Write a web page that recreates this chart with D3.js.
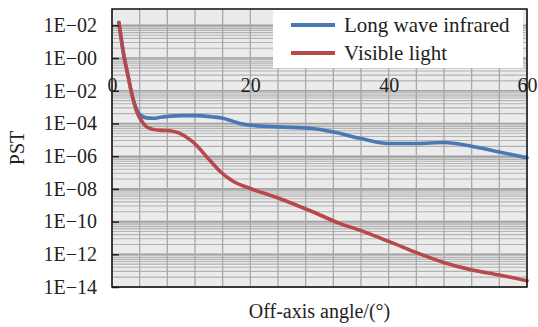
<!DOCTYPE html>
<html><head><meta charset="utf-8">
<script src="https://cdn.jsdelivr.net/npm/d3@7"></script>
<style>html,body{margin:0;padding:0;background:#fff;}svg{display:block;}</style>
</head><body>
<svg id="chart" width="538" height="327"></svg>
<script>
// ---- data ----
const angles = [1, 1.7, 2.3, 2.9, 3.5, 4, 5, 6, 7, 8.5, 10, 12, 14.6, 16, 18.5, 20, 24, 29, 32, 36, 40, 44, 48, 52, 56, 60];
const lwir = [1.5e2, 1.5e0, 8.9e-2, 5.4e-3, 8.5e-4, 3.6e-4, 2.2e-4, 2.1e-4, 2.4e-4, 2.8e-4, 3.0e-4, 3.0e-4, 2.5e-4, 2.1e-4, 1.0e-4, 7.8e-5, 6.2e-5, 4.9e-5, 3.0e-5, 1.2e-5, 6.0e-6, 6.0e-6, 6.9e-6, 4.1e-6, 1.8e-6, 7.9e-7];
const visAngles = [1, 1.7, 2.3, 2.9, 3.6, 4.2, 4.9, 5.8, 7, 8.4, 9.8, 11.7, 13.7, 15.6, 17.5, 19.9, 24.2, 29, 32.9, 35.8, 40.1, 44.4, 48.3, 52.1, 56, 60];
const visible = [1.5e2, 1.5e0, 8.9e-2, 5.4e-3, 4.9e-4, 1.6e-4, 6.8e-5, 4.5e-5, 3.8e-5, 3.6e-5, 2.5e-5, 7.4e-6, 9.1e-7, 1.2e-7, 2.9e-8, 1.1e-8, 2.6e-9, 4.0e-10, 7.8e-11, 3.0e-11, 5.9e-12, 1.1e-12, 2.8e-13, 1.1e-13, 5.4e-14, 2.4e-14];
const seriesNames = ["Long wave infrared", "Visible light"];
const yTickValues = [1e2, 1e0, 1e-2, 1e-4, 1e-6, 1e-8, 1e-10, 1e-12, 1e-14];
const yTickLabels = ["1E\u221202", "1E\u221200", "1E\u221202", "1E\u221204", "1E\u221206", "1E\u221208", "1E\u221210", "1E\u221212", "1E\u221214"];
const xTickValues = [0, 20, 40, 60];
const xGridValues = [0, 4, 8, 12, 16, 20, 24, 28, 32, 36, 40, 44, 48, 52, 56, 60];

// ---- layout ----
const L = 112, R = 527, T = 9, B = 287;
const svg = d3.select("#chart");
const font = "'Liberation Serif','Times New Roman',serif";
const x = d3.scaleLinear().domain([0, 60]).range([L, R]);
const y = d3.scaleLog().domain([1e-14, 1e3]).range([B, T]);
const colors = ["#4a78b4", "#b9484c"];

svg.append("rect").attr("x", L).attr("y", T).attr("width", R - L).attr("height", B - T).attr("fill", "#ebebeb");

// minor horizontal grid: within each labeled interval (2 decades)
const minor = [];
yTickValues.forEach(v => {
  if (v <= 1e-14) return;
  const lo = v / 100;
  for (let k = 2; k <= 9; k++) minor.push(lo * k * k);
});
const grid = svg.append("g");
grid.selectAll("line.minor").data(minor).enter().append("line")
  .attr("x1", L).attr("x2", R).attr("y1", d => y(d)).attr("y2", d => y(d))
  .attr("stroke", "#b2b2b2").attr("stroke-width", 1.1);
grid.selectAll("line.major").data(yTickValues).enter().append("line")
  .attr("x1", L).attr("x2", R).attr("y1", d => y(d)).attr("y2", d => y(d))
  .attr("stroke", "#a0a0a0").attr("stroke-width", 1.6);
grid.selectAll("line.vx").data(xGridValues).enter().append("line")
  .attr("x1", d => x(d)).attr("x2", d => x(d)).attr("y1", T).attr("y2", B)
  .attr("stroke", "#a8a8a8").attr("stroke-width", 1.3);

// data lines
const line = d3.line().x(d => x(d[0])).y(d => y(d[1])).curve(d3.curveMonotoneX);
const seriesData = [d3.zip(angles, lwir), d3.zip(visAngles, visible)];
seriesData.forEach((s, i) => {
  svg.append("path").datum(s).attr("d", line).attr("fill", "none")
    .attr("stroke", colors[i]).attr("stroke-width", 3.6).attr("stroke-linejoin", "round").attr("stroke-linecap", "round");
});

// y axis ticks (inward) and labels
const yAxis = d3.axisLeft(y).tickValues(yTickValues).tickFormat((d, i) => yTickLabels[i]).tickSizeInner(-7).tickSizeOuter(0).tickPadding(15);
const gy = svg.append("g").attr("transform", `translate(${L},0)`).call(yAxis);
gy.select(".domain").remove();
gy.selectAll(".tick line").attr("stroke", "#222").attr("stroke-width", 1.5);
gy.selectAll(".tick text").attr("font-family", font).attr("font-size", 20).attr("fill", "#222");

// x labels placed at the 1E-02 level
const xAxis = d3.axisBottom(x).tickValues(xTickValues).tickFormat(d3.format("d")).tickSize(0).tickPadding(0);
const gx = svg.append("g").attr("transform", `translate(0,${y(1e-2) - 13})`).call(xAxis);
gx.select(".domain").remove();
gx.selectAll(".tick text").attr("font-family", font).attr("font-size", 20).attr("fill", "#222").attr("dy", "0.71em");

// legend
const lg = svg.append("g");
lg.append("rect").attr("x", 273).attr("y", T + 1).attr("width", 250).attr("height", 58).attr("fill", "#fff");
seriesNames.forEach((n, i) => {
  const cy = 25 + i * 28;
  lg.append("line").attr("x1", 291).attr("x2", 335).attr("y1", cy).attr("y2", cy)
    .attr("stroke", colors[i]).attr("stroke-width", 4);
  lg.append("text").attr("x", 344).attr("y", cy + 7).text(n)
    .attr("font-family", font).attr("font-size", 21).attr("fill", "#222");
});

// frame
svg.append("rect").attr("x", L).attr("y", T).attr("width", R - L).attr("height", B - T)
  .attr("fill", "none").attr("stroke", "#111").attr("stroke-width", 1.5);

// axis titles
svg.append("text").attr("transform", `translate(24,148) rotate(-90)`).attr("text-anchor", "middle")
  .attr("font-family", font).attr("font-size", 20).attr("fill", "#222").text("PST");
svg.append("text").attr("x", (L + R) / 2).attr("y", 318).attr("text-anchor", "middle")
  .attr("font-family", font).attr("font-size", 20).attr("fill", "#222").text("Off-axis angle/(\u00b0)");
</script>
</body></html>
